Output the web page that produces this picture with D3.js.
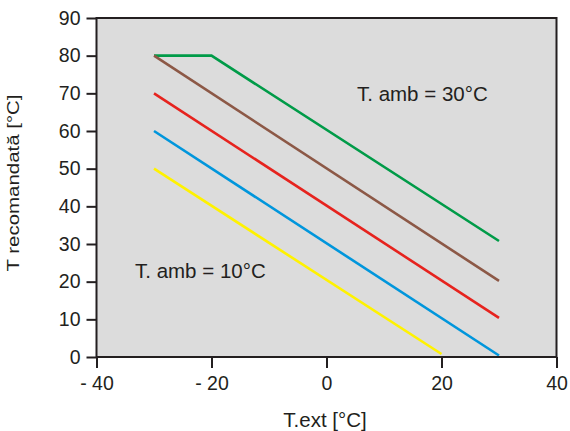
<!DOCTYPE html>
<html>
<head>
<meta charset="utf-8">
<script src="https://cdn.jsdelivr.net/npm/d3@7"></script>
<style>
  body { margin: 0; background: #fff; }
  text { font-family: "Liberation Sans", Arial, sans-serif; fill: #231f20; }
</style>
</head>
<body>
<div id="plotspace"></div>
<script>
var xTicks = [-40, -20, 0, 20, 40];
var xTickLabels = ["- 40", "- 20", "0", "20", "40"];
var yTicks = [0, 10, 20, 30, 40, 50, 60, 70, 80, 90];

var greenX = [-30, -20, 30];
var greenY = [80, 80, 30.8];
var brownX = [-30, 30];
var brownY = [80, 20.2];
var redX = [-30, 30];
var redY = [70, 10.4];
var blueX = [-30, 30];
var blueY = [60, 0.4];
var yellowX = [-30, 20];
var yellowY = [50, 0.8];

var series = [
    {x: greenX, y: greenY, color: "#009b48"},
    {x: brownX, y: brownY, color: "#8c5846"},
    {x: redX, y: redY, color: "#e6231e"},
    {x: blueX, y: blueY, color: "#0096dc"},
    {x: yellowX, y: yellowY, color: "#fff200"}
];

var drawChart = function() {
    var width = 570, height = 431;
    var plotLeft = 96.5, plotRight = 556.5, plotTop = 18, plotBottom = 357;

    var x = d3.scaleLinear().domain([-40, 40]).range([plotLeft, plotRight]);
    var y = d3.scaleLinear().domain([0, 90]).range([plotBottom, plotTop]);

    var svg = d3.select("#plotspace").
        append("svg").
        attr("width", width).
        attr("height", height);

    // background
    svg.append("rect").
        attr("x", x(-40)).
        attr("y", y(90)).
        attr("width", x(40) - x(-40)).
        attr("height", y(0) - y(90)).
        attr("fill", "#dcdcdc");

    // lines
    var line = d3.line().
        x(function(d) { return x(d[0]); }).
        y(function(d) { return y(d[1]); });

    series.forEach(function(s) {
        var pts = s.x.map(function(v, i) { return [v, s.y[i]]; });
        svg.append("path").
            attr("d", line(pts)).
            attr("fill", "none").
            attr("stroke", s.color).
            attr("stroke-width", 2.6);
    });

    // frame
    svg.append("rect").
        attr("x", x(-40)).
        attr("y", y(90)).
        attr("width", x(40) - x(-40)).
        attr("height", y(0) - y(90)).
        attr("fill", "none").
        attr("stroke", "#231f20").
        attr("stroke-width", 2);

    // axes
    var xAxis = d3.axisBottom(x).
        tickValues(xTicks).
        tickSize(11).
        tickPadding(8).
        tickFormat(function(d, i) { return xTickLabels[i]; });
    var gx = svg.append("g").
        attr("transform", "translate(0," + y(0) + ")").
        call(xAxis);

    var yAxis = d3.axisLeft(y).
        tickValues(yTicks).
        tickSize(10).
        tickPadding(6);
    var gy = svg.append("g").
        attr("transform", "translate(" + x(-40) + ",0)").
        call(yAxis);

    [gx, gy].forEach(function(g) {
        g.select(".domain").remove();
        g.selectAll("line").attr("stroke", "#231f20").attr("stroke-width", 2);
        g.selectAll("text").
            attr("fill", "#231f20").
            style("font-size", "19.5px").
            style("font-family", "'Liberation Sans', Arial, sans-serif");
    });

    // labels
    svg.append("text").
        attr("x", 325).
        attr("y", 427).
        attr("text-anchor", "middle").
        style("font-size", "20.5px").
        text("T.ext [°C]");

    svg.append("text").
        attr("transform", "translate(18.5,183) rotate(-90)").
        attr("text-anchor", "middle").
        attr("textLength", 177).
        attr("lengthAdjust", "spacingAndGlyphs").
        style("font-size", "16px").
        text("T recomandată [°C]");

    svg.append("text").
        attr("x", 357).
        attr("y", 101).
        style("font-size", "20.5px").
        text("T. amb = 30°C");

    svg.append("text").
        attr("x", 135).
        attr("y", 278).
        style("font-size", "20.5px").
        text("T. amb = 10°C");
};

drawChart();
</script>
</body>
</html>
